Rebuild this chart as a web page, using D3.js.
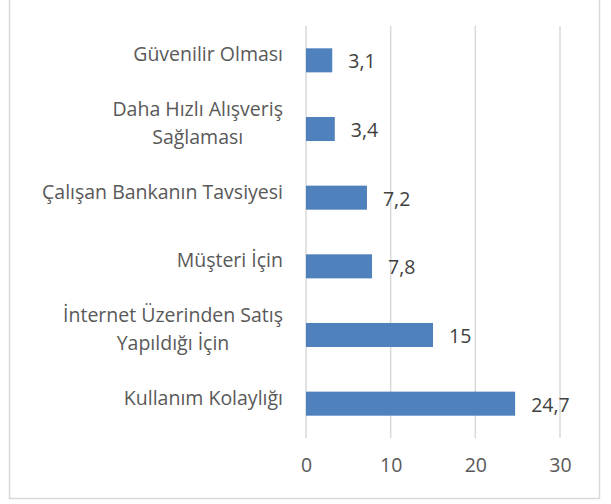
<!DOCTYPE html>
<html>
<head>
<meta charset="utf-8">
<script src="https://cdn.jsdelivr.net/npm/d3@7"></script>
<style>
  body { margin: 0; background: #fff; }
  text { font-family: "Open Sans", sans-serif; }
</style>
</head>
<body>
<svg width="611" height="504"></svg>
<script>
// categories top to bottom, each one split into its display lines
var categories = [
	["Güvenilir Olması"],
	["Daha Hızlı Alışveriş", "Sağlaması"],
	["Çalışan Bankanın Tavsiyesi"],
	["Müşteri İçin"],
	["İnternet Üzerinden Satış", "Yapıldığı İçin"],
	["Kullanım Kolaylığı"]
];
var values = [3.1, 3.4, 7.2, 7.8, 15, 24.7];
var xTicks = [0, 10, 20, 30];

var fs = 19.5;
var svg = d3.select("svg");

// outer frame
svg.append("rect")
	.attr("x", 9.5).attr("y", -2)
	.attr("width", 590).attr("height", 500.5)
	.attr("fill", "none")
	.attr("stroke", "#d9d9d9")
	.attr("stroke-width", 1.5);

var x = d3.scaleLinear().domain([0, 30]).range([306, 560]);
var y = d3.scaleBand()
	.domain(d3.range(categories.length))
	.range([26, 438])
	.paddingInner(0.65)
	.paddingOuter(0.325);

// gridlines
svg.append("g").selectAll("line")
	.data(xTicks)
	.enter().append("line")
		.attr("x1", function(d) { return x(d); })
		.attr("x2", function(d) { return x(d); })
		.attr("y1", 26).attr("y2", 438)
		.attr("stroke", "#d9d9d9")
		.attr("stroke-width", 1.5);

// x axis labels
var xAxis = d3.axisBottom(x).tickValues(xTicks).tickSize(0).tickPadding(0);
var gx = svg.append("g")
	.attr("transform", "translate(0,458)")
	.call(xAxis);
gx.select(".domain").remove();
gx.selectAll("text")
	.attr("font-family", "Open Sans, sans-serif")
	.attr("font-size", fs)
	.attr("fill", "#595959");

// bars
svg.append("g").selectAll("rect")
	.data(values)
	.enter().append("rect")
		.attr("x", x(0))
		.attr("y", function(d, i) { return y(i); })
		.attr("width", function(d) { return x(d) - x(0); })
		.attr("height", y.bandwidth())
		.attr("fill", "#4f81bd");

// value labels
svg.append("g").selectAll("text")
	.data(values)
	.enter().append("text")
		.attr("x", function(d) { return x(d) + 16; })
		.attr("y", function(d, i) { return y(i) + y.bandwidth() / 2 + 1; })
		.attr("dy", "0.36em")
		.attr("font-size", fs)
		.attr("fill", "#404040")
		.text(function(d) { return String(d).replace(".", ","); });

// category labels
var lineGap = 28;
var cat = svg.append("g").selectAll("text")
	.data(categories)
	.enter().append("text")
		.attr("font-size", fs)
		.attr("fill", "#595959")
		.attr("y", function(d, i) { return y(i) + y.bandwidth() / 2 + 1 - (d.length - 1) * lineGap / 2; })
		.attr("dy", "0.36em");

cat.each(function(d) {
	var t = d3.select(this);
	t.selectAll("tspan").data(d).enter().append("tspan")
		.attr("dy", function(s, j) { return j === 0 ? 0 : lineGap; })
		.text(function(s) { return s; });
	// block is right aligned at x=283, lines centered inside it
	var w = 0;
	t.selectAll("tspan").each(function() { w = Math.max(w, this.getComputedTextLength()); });
	t.selectAll("tspan")
		.attr("text-anchor", "middle")
		.attr("x", 283 - w / 2);
});
</script>
</body>
</html>
